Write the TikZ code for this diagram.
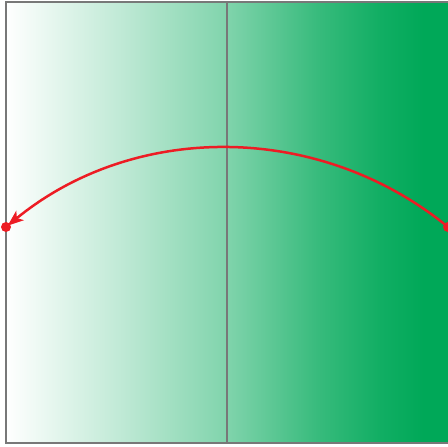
\documentclass[tikz,border=0pt]{standalone}
\usetikzlibrary{arrows.meta}
\definecolor{boxgreen}{RGB}{0,168,88}
\definecolor{framegray}{RGB}{120,120,120}
\definecolor{arcred}{RGB}{237,28,36}
\pgfdeclarehorizontalshading{gfade}{100bp}{color(0bp)=(white); color(25bp)=(white); color(37.5bp)=(boxgreen!24!white); color(50bp)=(boxgreen!50!white); color(60bp)=(boxgreen!78!white); color(67bp)=(boxgreen!93!white); color(72bp)=(boxgreen); color(100bp)=(boxgreen)}
\begin{document}
\begin{tikzpicture}[x=1pt,y=-1pt,
  frame/.style={draw=framegray,line width=2pt},
  divider/.style={draw=framegray,line width=1.8pt},
  enddot/.style={circle,fill=arcred,inner sep=0pt,minimum size=10pt},
  arcline/.style={draw=arcred,line width=2.5pt,-{Stealth[length=16pt,width=12pt,inset=4pt]},shorten >=2pt}]
\useasboundingbox (0,0) rectangle (448,447);
\clip (0,0) rectangle (448,447);
\shade[shading=gfade] (6,2) rectangle (450,443);
\draw[frame] (6,2) rectangle (451,443);
\coordinate (top) at (227,2);
\coordinate (bot) at (227,443);
\draw[divider] (top) -- (bot);
\node[enddot] (L) at (6,227) {};
\node[enddot] (R) at (448,227) {};
\draw[arcline] (R.center) arc[start angle=-50.66,end angle=-129.34,radius=348.6];
\end{tikzpicture}
\end{document}
